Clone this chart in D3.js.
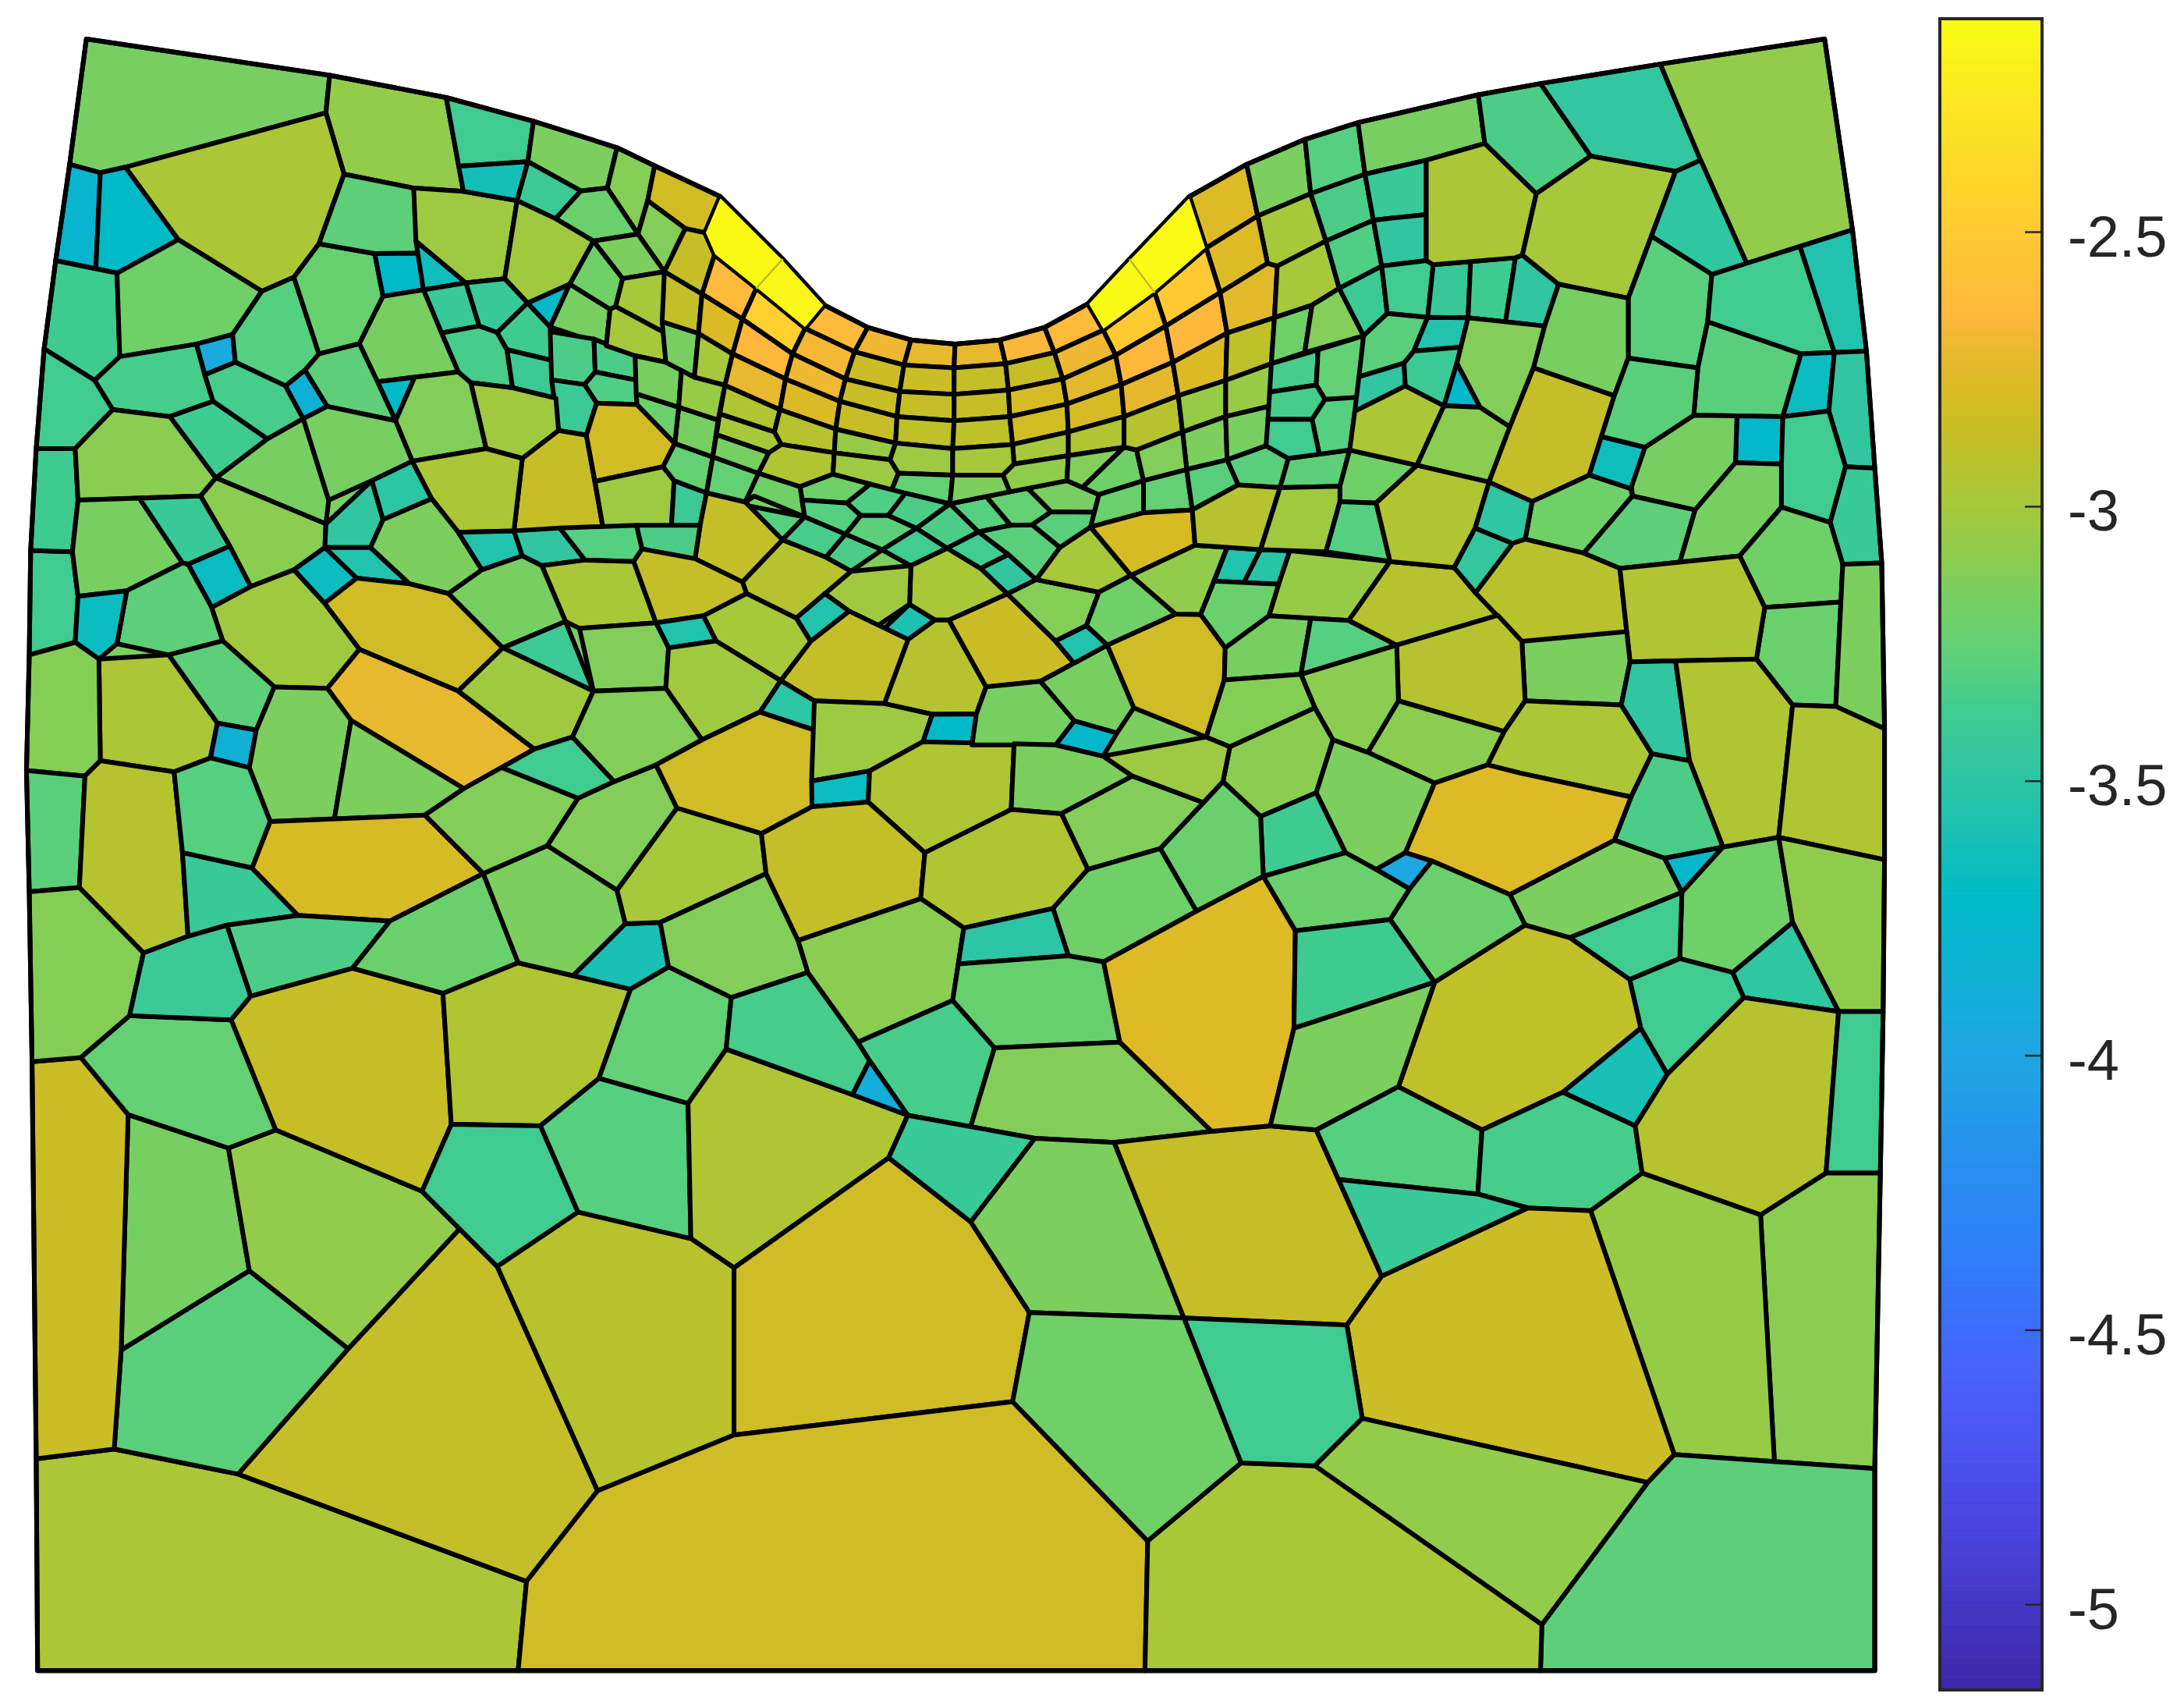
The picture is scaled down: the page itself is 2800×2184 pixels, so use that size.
<!DOCTYPE html>
<html>
<head>
<meta charset="utf-8">
<style>
  html, body { margin: 0; background: #fff; }
  text { font-family: "Liberation Sans", Arial, sans-serif; }
</style>
<script src="https://cdn.jsdelivr.net/npm/d3@7"></script>
</head>
<body>
<svg id="canvas"></svg>
<script>
const WIDTH = 2800, HEIGHT = 2184,
    SNAP_RADIUS = 4, // mesh units, vertices read off the picture don't line up exactly
    EDGE_SNAP = 3.5;

// colour map
const colorStops = [-5.156, -4.85, -4.6, -4.376, -4, -3.72, -3.5, -3.37, -3.3, -3.22, -3.15, -3.08, -3, -2.93, -2.88, -2.83, -2.78, -2.72, -2.65, -2.45, -2.112];
const colorValues = ['#3e26a8', '#4a45e0', '#4a5ffb', '#2f7dfb', '#1ea5e2', '#00bac8', '#2cc5a5', '#40cb90', '#55cf80', '#6ad06c', '#7ccf5e', '#90cc4c', '#a6c83a', '#b5c32e', '#c4bf28', '#d0bc24', '#dcba26', '#e8b82e', '#ffb83c', '#ffd02e', '#f9fb15'];
const colorTicks = [-2.5, -3, -3.5, -4, -4.5, -5];

// mesh outline
const outline = [62,28, 236,54, 321,70, 383,87, 443,106, 470,119, 517,141, 562,186, 592,219, 623,235, 654,244, 686,247, 718,244, 750,235, 781,218, 811,186, 854,141, 895,118, 937,100, 975,88, 1062,68, 1106,60, 1192,46, 1310,28, 1330,165, 1340,252, 1346,336, 1351,404, 1353,523, 1353,617, 1352,726, 1350,842, 1346,1054, 1346,1199, 27,1199, 26,1047, 23,762, 21,640, 19,553, 21,470, 22,395, 26,322, 31,250, 40,187, 50,118];

// cells: value, then polygon vertices x,y,x,y...
const cellsTopLeft = [
  [-3.17, 62,28, 237,54, 234,81, 90,120, 72,124, 50,118],
  [-3.07, 237,54, 320,70, 332,137, 297,135, 247,125, 234,81],
  [-2.97, 234,81, 247,125, 229,175, 211,199, 188,209, 128,172, 90,120],
  [-3.8, 50,118, 72,124, 69,192, 40,187],
  [-3.72, 72,124, 90,120, 128,172, 84,196, 69,192],
  [-3.38, 40,187, 84,196, 86,256, 68,273, 33,251],
  [-3.2, 84,196, 128,172, 188,209, 167,240, 141,247, 86,256],
  [-3.95, 141,247, 167,240, 169,260, 147,269],
  [-3.3, 188,209, 211,199, 229,254, 219,265, 205,277, 169,260, 167,240],
  [-3.23, 211,199, 229,175, 269,182, 275,212, 258,246, 229,254],
  [-3.27, 229,175, 247,125, 297,135, 299,182, 269,182],
  [-3.72, 269,182, 299,182, 304,208, 275,213],
  [-3.65, 301,174, 333,203, 304,208],
  [-3.03, 297,135, 332,137, 372,144, 363,200, 333,203, 301,172],
  [-3.37, 320,70, 383,87, 379,116, 331,119],
  [-3.62, 331,119, 379,116, 371,144, 334,138],
  [-3.15, 383,87, 443,106, 436,135, 417,137, 379,116],
  [-3.4, 379,116, 417,137, 399,157, 371,144],
  [-3.12, 443,106, 470,119, 465,144, 458,168, 436,135],
  [-2.82, 470,119, 517,141, 506,167, 492,164, 465,144],
  [-3.22, 417,137, 436,135, 458,168, 426,173, 399,157],
  [-3.13, 465,144, 492,164, 477,195, 458,168],
  [-2.87, 492,164, 506,167, 513,183, 504,211, 477,195],
  [-3.15, 458,168, 477,195, 447,200, 426,173],
  [-3.2, 426,173, 447,200, 442,220, 438,222, 409,204],
  [-3, 447,200, 477,195, 475,239, 442,220],
  [-3.02, 371,144, 399,157, 426,173, 409,204, 378,217, 362,200],
  [-3.42, 336,203, 362,200, 378,217, 357,238, 344,234],
  [-3.42, 304,208, 336,203, 344,234, 317,239],
  [-3.35, 317,239, 344,234, 357,239, 364,251, 368,278, 338,274, 329,267],
  [-3.38, 378,218, 394,234, 395,259, 364,251, 357,239],
  [-3.72, 381,218, 409,204, 394,234],
  [-3.17, 409,204, 438,222, 436,246, 397,236],
  [-3.4, 364,251, 395,259, 397,286, 368,278],
  [-3.33, 396,238, 426,245, 427,267, 419,275, 398,272],
  [-3.33, 426,245, 456,256, 456,273, 427,267],
  [-3, 438,222, 442,220, 475,239, 478,260, 456,254, 436,246],
  [-3.32, 421,277, 428,267, 456,273, 456,289, 429,289],
  [-3.4, 398,273, 419,276, 428,289, 421,312, 401,309],
  [-3.02, 338,275, 368,279, 397,286, 401,309, 375,329, 349,322],
  [-3.17, 258,247, 275,213, 304,208, 317,239, 329,267, 271,274],
  [-3.72, 271,274, 298,273, 284,301],
  [-2.87, 375,329, 401,309, 421,312, 433,377, 369,381],
  [-2.82, 421,313, 428,290, 458,291, 483,318, 476,335, 430,345],
  [-3.03, 430,345, 476,335, 484,345, 482,377, 433,377],
  [-3.4, 484,345, 506,354, 502,377, 482,377],
  [-3.25, 484,319, 512,328, 507,353, 484,345, 476,335],
  [-3.17, 488,293, 516,303, 512,327, 486,318],
  [-3.22, 458,283, 487,292, 485,318, 458,291],
  [-3.17, 456,256, 478,260, 488,268, 487,292, 458,282],
  [-3.05, 488,268, 520,277, 516,300, 487,292],
  [-3.17, 477,231, 502,239, 499,269, 478,260],
  [-3, 500,240, 526,254, 520,277, 499,269],
  [-2.95, 520,276, 560,294, 556,310, 516,297],
  [-3, 516,297, 556,310, 561,319, 552,325, 515,312],
  [-3.17, 514,312, 552,325, 545,339, 512,328],
  [-3.25, 511,329, 545,339, 541,356, 535,360, 508,353]
];

const cellsTopMiddle = [
  [-2.13, 517,141, 562,186, 543,207, 513,183, 506,167],
  [-2.14, 562,186, 592,219, 578,235, 543,207],
  [-2.63, 592,219, 623,235, 614,252, 578,236],
  [-2.63, 513,183, 543,207, 533,229, 504,211],
  [-2.47, 543,207, 578,236, 569,254, 533,229],
  [-2.88, 477,195, 504,211, 502,239, 477,231],
  [-2.78, 504,211, 533,229, 526,254, 502,239],
  [-2.65, 533,229, 569,254, 564,272, 526,254],
  [-2.68, 578,236, 613,253, 607,272, 569,254],
  [-2.7, 614,252, 623,235, 654,244, 649,262],
  [-2.72, 654,244, 686,247, 685,264, 649,262],
  [-2.72, 685,247, 718,244, 722,261, 685,264],
  [-2.66, 718,244, 750,235, 757,253, 722,261],
  [-2.63, 750,235, 781,218, 792,237, 757,253],
  [-2.72, 526,254, 564,272, 560,294, 522,276],
  [-2.78, 564,272, 603,288, 600,308, 560,294],
  [-2.7, 569,254, 607,272, 603,288, 564,272],
  [-2.85, 613,253, 649,262, 646,281, 607,272],
  [-2.86, 607,272, 646,281, 644,299, 603,288],
  [-2.87, 603,288, 644,299, 643,318, 600,308],
  [-2.85, 649,262, 685,264, 685,283, 646,281],
  [-2.87, 646,281, 685,283, 685,302, 644,299],
  [-2.9, 644,299, 685,302, 684,322, 643,318],
  [-2.87, 685,264, 722,261, 724,280, 685,283],
  [-2.87, 685,283, 724,280, 725,299, 685,302],
  [-2.9, 685,302, 725,299, 727,319, 684,322],
  [-2.87, 722,261, 757,253, 763,272, 724,280],
  [-2.8, 724,280, 763,272, 766,290, 725,299],
  [-2.82, 725,299, 766,290, 767,310, 727,319],
  [-2.93, 560,294, 600,308, 599,325, 561,319, 556,310],
  [-3.05, 600,308, 643,318, 639,330, 599,325],
  [-3.03, 643,318, 684,322, 684,341, 645,339, 639,330],
  [-2.95, 561,319, 599,325, 598,340, 575,348, 545,339, 552,325],
  [-3.03, 599,325, 639,330, 645,339, 640,351, 598,340],
  [-3.25, 645,341, 684,341, 682,361, 650,354, 640,352],
  [-3.2, 575,349, 598,341, 624,350, 608,361, 578,358],
  [-3.32, 624,351, 650,354, 637,370, 618,370, 608,361],
  [-3.33, 650,354, 682,361, 658,378, 638,370],
  [-3.2, 543,342, 573,351, 577,370, 542,356, 535,360],
  [-3.3, 540,361, 577,372, 562,387],
  [-3.3, 578,359, 608,361, 618,370, 607,383, 577,371],
  [-3.35, 580,371, 607,383, 593,400, 562,387],
  [-3.27, 618,370, 638,370, 658,379, 634,394, 607,383],
  [-3.33, 658,380, 682,364, 702,381, 680,393],
  [-3.33, 593,400, 607,385, 632,396, 611,410],
  [-3.37, 634,394, 658,380, 680,393, 654,406],
  [-3.37, 680,393, 702,382, 724,398, 704,408],
  [-3.47, 704,408, 724,398, 743,416, 723,426],
  [-3.3, 682,361, 708,356, 725,376, 703,382],
  [-3.25, 708,356, 725,353, 738,351, 754,367, 741,376, 726,377],
  [-3.17, 738,351, 766,345, 789,355, 785,367, 755,367],
  [-3.28, 755,368, 785,368, 783,378, 761,393, 741,377],
  [-3.28, 703,382, 726,378, 741,377, 761,393, 743,416, 724,398],
  [-3.58, 636,449, 653,435, 670,445, 652,459],
  [-2.98, 654,406, 680,395, 704,408, 723,426, 682,445, 672,445, 653,433],
  [-3.02, 611,410, 654,406, 653,433, 631,448, 610,438, 593,427],
  [-2.93, 563,388, 593,400, 611,410, 571,443, 536,426, 533,418],
  [-2.88, 508,355, 535,361, 560,388, 533,417, 499,401, 503,377],
  [-3.55, 573,445, 593,427, 609,439, 582,460],
  [-2.88, 582,461, 610,439, 652,459, 635,505, 585,503, 561,488],
  [-2.93, 652,459, 672,445, 680,445, 708,493, 701,512, 670,512, 635,505],
  [-2.85, 682,445, 723,426, 757,460, 771,476, 747,489, 708,493]
];

const cellsTopRight = [
  [-2.13, 781,218, 811,186, 829,210, 792,237],
  [-2.11, 811,186, 854,141, 866,178, 829,210],
  [-2.77, 854,141, 895,118, 903,155, 866,178],
  [-3.15, 895,118, 937,100, 941,139, 903,155],
  [-3.3, 937,100, 975,88, 980,125, 941,139],
  [-3.17, 975,88, 1061,68, 1066,103, 1024,115, 980,125],
  [-3, 903,155, 941,139, 952,173, 917,191, 910,189],
  [-2.77, 866,178, 903,155, 910,189, 876,210],
  [-2.5, 829,210, 866,178, 876,210, 837,234],
  [-2.5, 792,237, 829,210, 837,234, 801,255],
  [-2.7, 757,253, 792,237, 801,255, 763,272],
  [-2.75, 763,272, 801,255, 805,276, 766,290],
  [-2.8, 766,290, 805,276, 807,299, 767,310],
  [-2.65, 801,255, 837,234, 842,260, 805,276],
  [-2.73, 805,276, 842,260, 846,284, 807,299],
  [-2.65, 837,234, 876,210, 881,239, 842,260],
  [-2.78, 842,260, 881,239, 880,273, 846,284],
  [-2.75, 876,210, 910,189, 917,191, 915,228, 881,239],
  [-2.9, 881,239, 915,228, 912,261, 880,273],
  [-3, 917,191, 952,173, 960,207, 942,219, 915,228],
  [-3.2, 915,228, 942,219, 937,254, 912,261],
  [-3.13, 942,219, 960,207, 964,208, 979,241, 937,254],
  [-3, 727,319, 767,310, 767,327, 728,333],
  [-2.95, 767,310, 807,299, 807,321, 767,327],
  [-2.93, 807,299, 846,284, 849,310, 816,323, 807,321],
  [-3.05, 846,284, 880,273, 880,299, 849,310],
  [-3.05, 880,273, 912,261, 911,291, 880,299],
  [-3.15, 849,310, 880,299, 881,330, 852,337],
  [-3.17, 880,299, 911,291, 909,320, 881,330],
  [-3.08, 728,333, 767,327, 766,345, 725,353, 720,341],
  [-3, 684,322, 727,319, 728,333, 720,341, 684,341],
  [-3.15, 684,341, 720,341, 725,353, 682,361],
  [-3.13, 767,327, 807,321, 778,348, 766,345],
  [-3.2, 807,321, 816,323, 821,345, 789,355, 778,348],
  [-3.13, 816,323, 849,310, 852,337, 821,345],
  [-3.22, 789,355, 821,345, 821,368, 783,378],
  [-3.25, 821,345, 852,337, 856,366, 821,368],
  [-3.28, 852,337, 881,330, 889,348, 856,366],
  [-3.28, 881,330, 909,320, 925,329, 919,350, 889,348],
  [-3.27, 925,329, 969,323, 962,349, 919,350],
  [-3.2, 969,323, 1015,334, 988,361, 962,360, 962,349],
  [-3.35, 915,261, 946,250, 945,276, 914,281],
  [-3.25, 946,250, 979,241, 974,285, 952,286, 945,276],
  [-3.35, 914,282, 945,277, 951,287, 942,301, 912,301],
  [-3.3, 951,287, 974,285, 969,323, 947,325, 942,301],
  [-3.37, 912,301, 942,301, 947,325, 925,329, 909,320],
  [-3.33, 941,139, 980,125, 986,158, 952,173],
  [-3.42, 980,125, 1024,115, 1024,154, 986,158],
  [-3.32, 952,173, 986,158, 992,191, 963,207],
  [-3.47, 986,158, 1024,154, 1024,187, 992,191],
  [-3.4, 963,207, 992,191, 996,225, 979,241],
  [-3.37, 992,191, 1024,187, 1029,190, 1025,228, 996,225],
  [-3.28, 979,241, 996,225, 1025,228, 1015,252, 1008,260, 976,270],
  [-3.47, 977,271, 1008,261, 1009,277, 975,295],
  [-2.97, 975,296, 1009,277, 1037,292, 1018,334, 969,323],
  [-3.43, 1029,190, 1056,190, 1054,227, 1025,227],
  [-3.38, 1056,190, 1088,185, 1081,230, 1054,227],
  [-3.47, 1088,185, 1093,183, 1119,204, 1109,234, 1081,230],
  [-3.55, 1025,228, 1054,229, 1048,249, 1015,252],
  [-3.4, 1015,252, 1048,249, 1046,260, 1036,291, 1009,277, 1008,261],
  [-3.75, 1046,262, 1062,291, 1037,290],
  [-3.1, 1037,292, 1063,293, 1084,307, 1069,346, 1018,334],
  [-3.13, 1054,229, 1109,234, 1101,264, 1084,306, 1063,293, 1046,260],
  [-2.88, 1101,264, 1159,284, 1141,341, 1100,360, 1069,346, 1084,306],
  [-2.97, 1024,115, 1066,103, 1103,139, 1093,183, 1088,185, 1029,190, 1024,187],
  [-3.33, 1061,68, 1106,60, 1142,112, 1103,139, 1066,103],
  [-3.46, 1106,60, 1192,46, 1221,115, 1203,123, 1142,112],
  [-3.07, 1192,46, 1310,28, 1330,165, 1254,189, 1221,115],
  [-3, 1103,139, 1142,112, 1203,123, 1169,214, 1119,204, 1093,183],
  [-3.48, 1203,123, 1221,115, 1254,189, 1229,197, 1187,170],
  [-3.28, 1187,170, 1229,197, 1226,231, 1219,264, 1169,257, 1169,214],
  [-3.17, 1119,204, 1169,214, 1169,257, 1159,284, 1101,264, 1109,234],
  [-3.37, 1254,189, 1293,179, 1317,253, 1293,254, 1226,231, 1229,197],
  [-3.55, 1293,179, 1330,165, 1340,252, 1317,253],
  [-3.28, 1226,231, 1293,254, 1280,299, 1216,298, 1219,264],
  [-3.67, 1293,254, 1317,253, 1313,295, 1280,299],
  [-3.47, 1317,253, 1340,252, 1346,336, 1325,335, 1313,295],
  [-3.75, 1247,300, 1280,299, 1279,333, 1246,332],
  [-3.17, 1181,321, 1216,298, 1247,300, 1246,332, 1231,347, 1217,366, 1172,356, 1170,347],
  [-3.65, 1152,314, 1181,321, 1170,351, 1141,341],
  [-3.28, 1159,284, 1169,257, 1219,264, 1216,298, 1181,321, 1152,314],
  [-3.2, 1100,360, 1141,341, 1170,351, 1172,356, 1137,397, 1095,387],
  [-3.27, 1137,397, 1172,356, 1217,366, 1206,403, 1163,408],
  [-3.17, 1217,366, 1246,332, 1279,333, 1279,364, 1249,399, 1206,403],
  [-3.37, 1280,299, 1313,295, 1325,335, 1314,375, 1279,364, 1279,333],
  [-3.42, 1325,335, 1346,336, 1351,404, 1323,405, 1314,375],
  [-3.2, 1279,364, 1314,375, 1323,405, 1321,432, 1267,436, 1249,399],
  [-3.22, 1267,436, 1321,432, 1318,507, 1287,506, 1261,473],
  [-3.15, 1323,405, 1351,404, 1353,523, 1318,507]
];

const cellsMiddleLeft = [
  [-3.37, 21,470, 54,461, 56,428, 52,396, 22,395],
  [-3.38, 22,395, 52,396, 56,359, 54,322, 26,322],
  [-3.37, 26,322, 54,322, 81,294, 68,273, 31,250],
  [-3.35, 68,273, 86,256, 141,247, 147,269, 153,288, 122,299, 81,294],
  [-3.1, 54,322, 81,294, 122,299, 155,343, 144,356, 56,359],
  [-3.38, 122,299, 153,288, 192,315, 155,343],
  [-3.35, 147,269, 169,260, 205,277, 217,302, 192,315, 153,288],
  [-3.85, 205,277, 219,266, 235,291, 218,300],
  [-3.27, 219,266, 229,254, 258,247, 271,274, 284,302, 235,292],
  [-3.13, 284,302, 298,274, 329,267, 338,275, 349,322, 296,331],
  [-3.17, 155,343, 192,315, 218,300, 236,359, 234,376],
  [-3.17, 218,300, 235,292, 284,303, 296,331, 267,345, 236,359],
  [-3.1, 144,356, 155,343, 234,376, 233,393, 211,409, 180,421, 165,392],
  [-3.17, 56,359, 100,357, 131,404, 91,424, 56,428, 52,396],
  [-3.42, 100,357, 144,356, 165,392, 135,405, 131,404],
  [-3.68, 135,405, 165,392, 180,421, 152,436],
  [-3.27, 135,405, 152,436, 160,460, 121,470, 84,462, 91,424, 131,404],
  [-3.67, 56,428, 91,424, 84,462, 71,473, 54,461],
  [-3.47, 234,376, 267,345, 275,373, 266,393, 233,393],
  [-3.5, 267,345, 296,331, 310,358, 275,373],
  [-3.55, 234,393, 266,393, 294,419, 256,415],
  [-3.67, 233,393, 256,415, 233,433, 211,409],
  [-2.97, 296,331, 349,322, 375,329, 369,381, 329,382, 310,358],
  [-3.15, 275,373, 310,358, 329,382, 346,409, 322,426, 294,419, 266,393],
  [-3.55, 329,382, 369,381, 375,399, 346,409],
  [-3.47, 369,381, 402,381, 420,402, 389,406, 375,399],
  [-3.3, 402,381, 457,379, 461,394, 455,403, 420,402],
  [-3.33, 457,379, 503,377, 499,401, 461,394],
  [-2.98, 389,406, 420,402, 455,403, 471,447, 416,451, 406,446],
  [-2.88, 455,403, 461,394, 499,401, 533,418, 536,426, 505,442, 471,447],
  [-3, 536,426, 571,443, 582,460, 561,488, 514,460, 505,442],
  [-3.55, 471,447, 505,442, 514,460, 480,465],
  [-3.13, 416,451, 471,447, 480,465, 478,494, 426,496],
  [-3.02, 480,465, 514,460, 560,489, 545,511, 504,531, 478,494],
  [-2.83, 256,415, 294,419, 322,426, 361,465, 329,496, 258,466, 233,433],
  [-2.72, 235,494, 258,466, 329,496, 383,537, 333,566, 252,517],
  [-3.02, 233,433, 258,466, 235,494, 197,493, 160,460, 152,436, 180,421, 211,409],
  [-3.27, 121,470, 160,460, 197,493, 184,524, 156,519],
  [-3.85, 156,519, 184,524, 179,551, 151,544],
  [-3.15, 197,493, 235,494, 252,517, 240,586, 194,589, 179,551, 184,524],
  [-3.15, 252,517, 333,566, 305,585, 240,586],
  [-2.97, 71,473, 121,470, 156,519, 151,544, 125,554, 72,546],
  [-3.12, 21,470, 54,461, 71,473, 72,546, 61,557, 19,553],
  [-3.28, 19,553, 61,557, 57,637, 21,640],
  [-2.93, 61,557, 72,546, 125,554, 131,612, 135,672, 103,684, 57,637],
  [-3.3, 125,554, 151,544, 179,551, 194,590, 181,623, 131,612],
  [-3.42, 131,612, 181,623, 214,657, 163,664, 135,672],
  [-2.8, 194,590, 305,585, 347,627, 280,661, 214,657, 181,623],
  [-3.17, 322,426, 346,409, 375,399, 389,406, 406,446, 361,465],
  [-3.4, 361,465, 406,446, 426,496],
  [-3.02, 361,465, 426,496, 411,529, 384,538, 329,496],
  [-3.37, 360,551, 384,538, 411,529, 441,561, 415,573],
  [-3.13, 305,585, 333,566, 360,551, 415,573, 393,607, 347,627],
  [-3.13, 415,573, 441,561, 471,549, 486,580, 443,639, 393,607],
  [-3.13, 411,529, 426,496, 478,494, 504,531, 471,549, 441,561],
  [-2.83, 546,511, 582,525, 582,579, 546,598, 486,580, 471,549, 504,531],
  [-3.5, 546,511, 560,489, 584,503, 582,523]
];

const cellsMiddleRight = [
  [-3.03, 585,503, 635,505, 668,513, 662,533, 624,553, 585,560],
  [-3.67, 585,561, 624,554, 622,575, 584,578],
  [-3.72, 670,513, 701,513, 698,533, 663,531],
  [-2.95, 663,533, 728,536, 726,581, 664,612, 624,576, 625,553],
  [-3.17, 708,493, 747,489, 771,517, 758,534, 698,533, 701,512],
  [-3.15, 728,537, 758,535, 792,543, 813,557, 762,584, 726,581],
  [-3.75, 758,535, 772,518, 802,526, 792,542],
  [-3.17, 747,489, 771,476, 795,463, 814,508, 802,526, 771,517],
  [-3.55, 758,460, 780,449, 795,463, 771,476],
  [-3.12, 724,427, 745,416, 789,425, 780,449, 758,460],
  [-3, 761,393, 783,379, 812,413, 789,425, 745,416],
  [-2.8, 783,378, 821,368, 856,366, 858,391, 812,413],
  [-2.83, 795,463, 844,441, 862,441, 879,465, 879,488, 866,529, 814,508],
  [-3.2, 812,413, 844,440, 795,463, 780,449, 789,425],
  [-3.07, 812,413, 858,392, 881,394, 862,441, 844,441],
  [-3.55, 881,394, 905,396, 893,417, 873,417],
  [-3.52, 905,396, 926,398, 918,419, 893,417],
  [-3.05, 926,398, 998,403, 968,445, 911,442, 918,419],
  [-3.22, 873,418, 918,420, 911,442, 880,465, 862,441],
  [-3.17, 880,465, 911,442, 941,445, 934,484, 879,488],
  [-3.3, 941,445, 969,446, 1002,463, 934,484],
  [-2.93, 998,403, 1044,408, 1074,443, 1003,463, 968,445],
  [-3.45, 1044,407, 1059,379, 1086,390, 1060,425],
  [-3.48, 1069,346, 1100,360, 1095,387, 1086,390, 1059,379],
  [-2.93, 856,366, 889,348, 919,350, 905,393, 858,391],
  [-3.02, 919,350, 962,349, 962,360, 952,396, 905,393],
  [-3.3, 962,360, 988,361, 998,403, 952,396],
  [-2.95, 988,361, 1018,334, 1069,346, 1059,379, 1044,407, 998,403],
  [-2.92, 1086,390, 1095,387, 1137,397, 1163,408, 1171,475, 1092,460, 1060,425],
  [-2.95, 1163,408, 1249,399, 1267,436, 1261,473, 1170,475, 1166,453],
  [-3.15, 1093,461, 1167,454, 1170,475, 1164,506, 1095,503],
  [-2.93, 1003,463, 1074,443, 1093,460, 1095,503, 1080,525, 1004,503],
  [-3.1, 1004,503, 1080,525, 1068,549, 1030,562, 982,540],
  [-2.97, 1095,503, 1164,506, 1186,541, 1171,572, 1092,555, 1068,549, 1080,525],
  [-3.47, 1170,475, 1203,476, 1213,546, 1186,541, 1164,506],
  [-2.95, 1203,476, 1261,473, 1287,506, 1277,601, 1237,608, 1213,546],
  [-3.33, 1186,541, 1213,546, 1237,608, 1195,616, 1159,603, 1171,572],
  [-2.95, 1287,506, 1318,507, 1353,523, 1353,617, 1277,601],
  [-3.75, 1195,616, 1237,608, 1208,640],
  [-3.15, 1159,603, 1195,616, 1207,641, 1127,673, 1095,664, 1084,642],
  [-3.2, 1237,608, 1277,601, 1287,662, 1244,698, 1206,688, 1208,640],
  [-3.08, 1277,601, 1353,617, 1352,726, 1320,726, 1287,662],
  [-3.37, 1127,673, 1207,641, 1206,688, 1170,703],
  [-3.37, 1170,703, 1206,688, 1244,698, 1252,716, 1197,771, 1178,738],
  [-3.48, 1244,698, 1287,662, 1320,726, 1252,716],
  [-3.1, 934,484, 1003,463, 1004,503, 982,540, 957,531, 944,508],
  [-3.12, 879,488, 934,484, 944,508, 883,536, 866,529],
  [-3.1, 883,536, 944,508, 957,531, 945,569, 905,586, 878,561],
  [-3.15, 957,531, 982,540, 1030,562, 1009,612, 988,624, 966,612, 945,569],
  [-2.77, 1030,562, 1068,549, 1092,555, 1171,572, 1159,603, 1084,642, 1028,618, 1009,612],
  [-3.98, 988,624, 1009,612, 1028,618, 1012,638],
  [-3.22, 1012,638, 1028,618, 1084,642, 1095,664, 1030,705, 998,660],
  [-3.38, 905,586, 945,569, 966,612, 907,629],
  [-3.22, 878,561, 905,586, 907,629, 859,654, 833,609, 864,576],
  [-3.13, 813,557, 864,576, 833,609, 781,624, 762,584],
  [-3.03, 792,543, 866,529, 883,536, 878,561, 864,576, 813,557]
];

const cellsBottomLeft = [
  [-2.97, 27,1199, 26,1047, 82,1040, 171,1058, 378,1135, 372,1199],
  [-2.88, 171,1058, 250,968, 330,882, 357,909, 429,1070, 378,1135],
  [-3.28, 82,1040, 87,969, 179,912, 250,968, 171,1058],
  [-3.17, 87,969, 92,800, 164,824, 179,912],
  [-2.85, 26,1047, 23,762, 58,759, 92,800, 87,969, 82,1040],
  [-3.07, 164,824, 198,811, 303,855, 330,882, 250,968, 179,912],
  [-3.25, 58,759, 93,729, 166,732, 198,811, 164,824, 92,800],
  [-3.12, 21,640, 57,637, 103,684, 93,729, 58,759, 23,762],
  [-3.4, 103,684, 135,672, 163,664, 180,715, 166,732, 93,729],
  [-3.33, 214,657, 280,661, 253,695, 180,715, 163,664],
  [-3.22, 280,661, 347,627, 372,691, 318,713, 253,695],
  [-2.87, 166,732, 180,715, 253,695, 318,713, 324,807, 303,855, 198,811],
  [-2.95, 318,713, 372,691, 452,710, 430,774, 388,808, 324,807],
  [-3.15, 347,627, 393,607, 443,639, 449,663, 411,702, 372,691],
  [-3.6, 449,663, 474,662, 480,694, 453,710, 411,702],
  [-3, 486,580, 546,598, 550,627, 474,662, 449,663, 443,639],
  [-3.13, 474,662, 550,627, 573,675, 580,698, 525,716, 480,694],
  [-3.25, 453,710, 480,694, 525,716, 520,753, 494,792, 430,774],
  [-3.37, 303,855, 324,807, 388,808, 415,870, 357,909, 330,882],
  [-3.3, 388,808, 430,774, 494,792, 496,889, 415,870],
  [-2.96, 494,792, 522,753, 612,786, 652,801, 638,831, 527,910, 496,889],
  [-2.92, 357,909, 415,870, 496,889, 527,910, 527,1030, 429,1070],
  [-2.83, 527,910, 638,831, 697,877, 739,942, 727,1006, 527,1030],
  [-2.83, 372,1199, 378,1135, 429,1070, 527,1030, 727,1006, 824,1106, 822,1199]
];

const cellsBottomRight = [
  [-2.88, 548,599, 583,580, 624,576, 664,612, 661,645, 573,675, 550,627],
  [-2.95, 664,612, 726,581, 762,584, 781,624, 756,652, 692,666, 661,645],
  [-3.2, 756,652, 781,624, 833,609, 859,654, 792,690, 767,686],
  [-3.35, 525,716, 580,698, 616,748, 625,761, 612,786, 522,753],
  [-3.1, 573,675, 661,645, 692,666, 684,718, 616,748, 580,698],
  [-3.35, 616,748, 684,718, 714,752, 697,808, 652,801, 625,761],
  [-3.9, 623,762, 651,799, 612,785],
  [-3.5, 692,666, 756,652, 767,686, 689,692],
  [-3.23, 689,692, 767,686, 793,691, 804,748, 714,752, 684,718],
  [-3.13, 714,752, 804,748, 870,812, 800,820, 743,817, 697,808],
  [-3.42, 638,831, 652,801, 743,817, 697,877],
  [-3.15, 697,877, 743,817, 800,820, 850,946, 739,942],
  [-2.87, 800,820, 870,812, 912,808, 945,811, 992,916, 967,951, 850,946],
  [-2.77, 907,629, 930,668, 929,738, 912,808, 870,812, 804,748, 792,690, 859,654],
  [-3.22, 907,629, 966,612, 988,624, 1012,638, 998,660, 930,668],
  [-3.38, 930,668, 998,660, 1030,705, 929,738],
  [-2.89, 1030,705, 1095,664, 1127,673, 1170,703, 1178,738, 1122,784, 1064,811, 1004,780],
  [-3.6, 1122,784, 1178,738, 1197,771, 1174,808],
  [-3.15, 929,738, 1030,705, 1004,780, 945,811, 912,808],
  [-3.3, 945,811, 1004,780, 1064,811, 1061,857, 960,847],
  [-3.35, 1064,811, 1122,784, 1174,808, 1179,842, 1142,869, 1097,867, 1061,857],
  [-2.93, 1197,771, 1252,716, 1320,726, 1311,842, 1264,872, 1179,842, 1174,808],
  [-3.37, 1320,726, 1352,726, 1350,842, 1311,842],
  [-3.1, 1264,872, 1311,842, 1350,842, 1346,1054, 1274,1048],
  [-3.05, 1142,869, 1179,842, 1264,872, 1274,1048, 1202,1044],
  [-3.42, 960,847, 1061,857, 1097,867, 992,916],
  [-2.85, 992,916, 1097,867, 1142,869, 1202,1044, 1183,1064, 978,1018, 967,951],
  [-3.27, 1202,1044, 1346,1054, 1346,1199, 1106,1199, 1107,1166, 1183,1064],
  [-3.07, 978,1018, 1183,1064, 1107,1166, 944,1052],
  [-2.98, 822,1199, 824,1106, 891,1050, 944,1052, 1107,1166, 1106,1199],
  [-3.37, 850,946, 967,951, 978,1018, 944,1052, 891,1050],
  [-3.2, 739,942, 850,946, 891,1050, 824,1106, 727,1006]
];

// the two yellow pairs are split by only a hairline
const yellowSeams = [
  [-2.13, 562,186, 543,207],
  [-2.12, 811,186, 829,210]
];

const meshX = d3.scaleLinear().domain([0, 1568]).range([0, WIDTH]),
    meshY = d3.scaleLinear().domain([0, 1223]).range([0, HEIGHT]),
    colorScale = d3.scaleLinear().domain(colorStops).range(colorValues),
    barY = d3.scaleLinear().domain([-5.156, -2.112]).range([2166, 24]);

const svgCanvas = d3.select('svg#canvas')
    .attr('width', WIDTH)
    .attr('height', HEIGHT)
    .style('display', 'block');

const allCells = [...cellsTopLeft, ...cellsTopMiddle, ...cellsTopRight, ...cellsMiddleLeft, ...cellsMiddleRight, ...cellsBottomLeft, ...cellsBottomRight];

// Weld vertices that were read separately for neighbouring cells
const polygons = [outline, ...allCells.map(d => d.slice(1))].map(flat => {
    const pts = [];
    for (let i = 0; i < flat.length; i += 2) pts.push({ x: flat[i], y: flat[i + 1] });
    return pts;
});

const clusters = [];
polygons.forEach(poly => poly.forEach((p, i) => {
    let c = clusters.find(c => Math.hypot(c.x - p.x, c.y - p.y) < SNAP_RADIUS);
    if (!c) {
        c = { x: p.x, y: p.y, sx: 0, sy: 0, n: 0 };
        clusters.push(c);
    }
    c.sx += p.x;
    c.sy += p.y;
    c.n++;
    poly[i] = c;
}));
clusters.forEach(c => {
    c.x = c.sx / c.n;
    c.y = c.sy / c.n;
});

// Pull T-junction vertices onto the edge they touch
const edges = [];
polygons.forEach(poly => poly.forEach((a, i) => edges.push([a, poly[(i + 1) % poly.length]])));
clusters.forEach(c => {
    let best = null, bestDist = EDGE_SNAP;
    edges.forEach(([a, b]) => {
        if (a === c || b === c) return;
        const dx = b.x - a.x, dy = b.y - a.y,
            t = ((c.x - a.x) * dx + (c.y - a.y) * dy) / (dx * dx + dy * dy);
        if (t < 0.05 || t > 0.95) return;
        const px = a.x + t * dx, py = a.y + t * dy,
            dist = Math.hypot(c.x - px, c.y - py);
        if (dist < bestDist) {
            bestDist = dist;
            best = { x: px, y: py };
        }
    });
    c.nx = best ? best.x : c.x;
    c.ny = best ? best.y : c.y;
});
clusters.forEach(c => {
    c.x = c.nx;
    c.y = c.ny;
});

const toScreen = poly => poly.map(p => [meshX(p.x), meshY(p.y)]);
const pathLine = d3.line().curve(d3.curveLinearClosed);

const cellRows = allCells.map((d, i) => ({ value: d[0], poly: polygons[i + 1] }));

// backing fill so that tiny slivers between cells don't show white
svgCanvas.append('path')
    .attr('d', pathLine(toScreen(polygons[0])))
    .attr('fill', colorScale(-3.15));

svgCanvas.append('g').selectAll('path')
    .data(cellRows)
    .join('path')
    .attr('d', d => pathLine(toScreen(d.poly)))
    .attr('fill', d => colorScale(d.value))
    .attr('stroke', '#000')
    .attr('stroke-width', 6)
    .attr('stroke-linejoin', 'round');

svgCanvas.append('path')
    .attr('d', pathLine(toScreen(polygons[0])))
    .attr('fill', 'none')
    .attr('stroke', '#000')
    .attr('stroke-width', 6)
    .attr('stroke-linejoin', 'round');

svgCanvas.append('g').selectAll('path')
    .data(cellRows.filter(d => d.value > -2.2))
    .join('path')
    .attr('d', d => pathLine(toScreen(d.poly)))
    .attr('fill', d => colorScale(d.value))
    .attr('stroke', '#000')
    .attr('stroke-width', 2.5);

const seams = svgCanvas.append('g').selectAll('g')
    .data(yellowSeams)
    .join('g');
const seamPath = d => d3.line()([[meshX(d[1]), meshY(d[2])], [meshX(d[3]), meshY(d[4])]]);
seams.append('path')
    .attr('d', seamPath)
    .attr('stroke', d => colorScale(d[0]))
    .attr('stroke-width', 3);
seams.append('path')
    .attr('d', seamPath)
    .attr('stroke', '#333')
    .attr('stroke-width', 0.7);

// colour bar
const bar = svgCanvas.append('g');
const barLeft = 2487, barRight = 2618;
bar.selectAll('rect.step')
    .data(d3.range(256))
    .join('rect')
    .attr('class', 'step')
    .attr('x', barLeft)
    .attr('width', barRight - barLeft)
    .attr('y', i => barY(-5.156 + (i + 1) * 3.044 / 256))
    .attr('height', 3.044 / 256 * 703.7 + 0.6)
    .attr('fill', i => colorScale(-5.156 + (i + 0.5) * 3.044 / 256));

bar.append('rect')
    .attr('x', barLeft)
    .attr('y', 24)
    .attr('width', barRight - barLeft)
    .attr('height', 2142)
    .attr('fill', 'none')
    .attr('stroke', '#262626')
    .attr('stroke-width', 4);

const barAxis = d3.axisRight(barY)
    .tickValues(colorTicks)
    .tickFormat(d => String(d))
    .tickSizeInner(-22)
    .tickSizeOuter(0)
    .tickPadding(33);

const axisG = bar.append('g')
    .attr('transform', `translate(${barRight},0)`)
    .call(barAxis);
axisG.select('.domain').remove();
axisG.selectAll('line').attr('stroke', '#262626').attr('stroke-width', 2.5);
axisG.selectAll('text')
    .attr('fill', '#262626')
    .attr('dy', '0.42em')
    .style('font-size', '74px')
    .style('font-family', '"Liberation Sans", Arial, sans-serif');
</script>
</body>
</html>
